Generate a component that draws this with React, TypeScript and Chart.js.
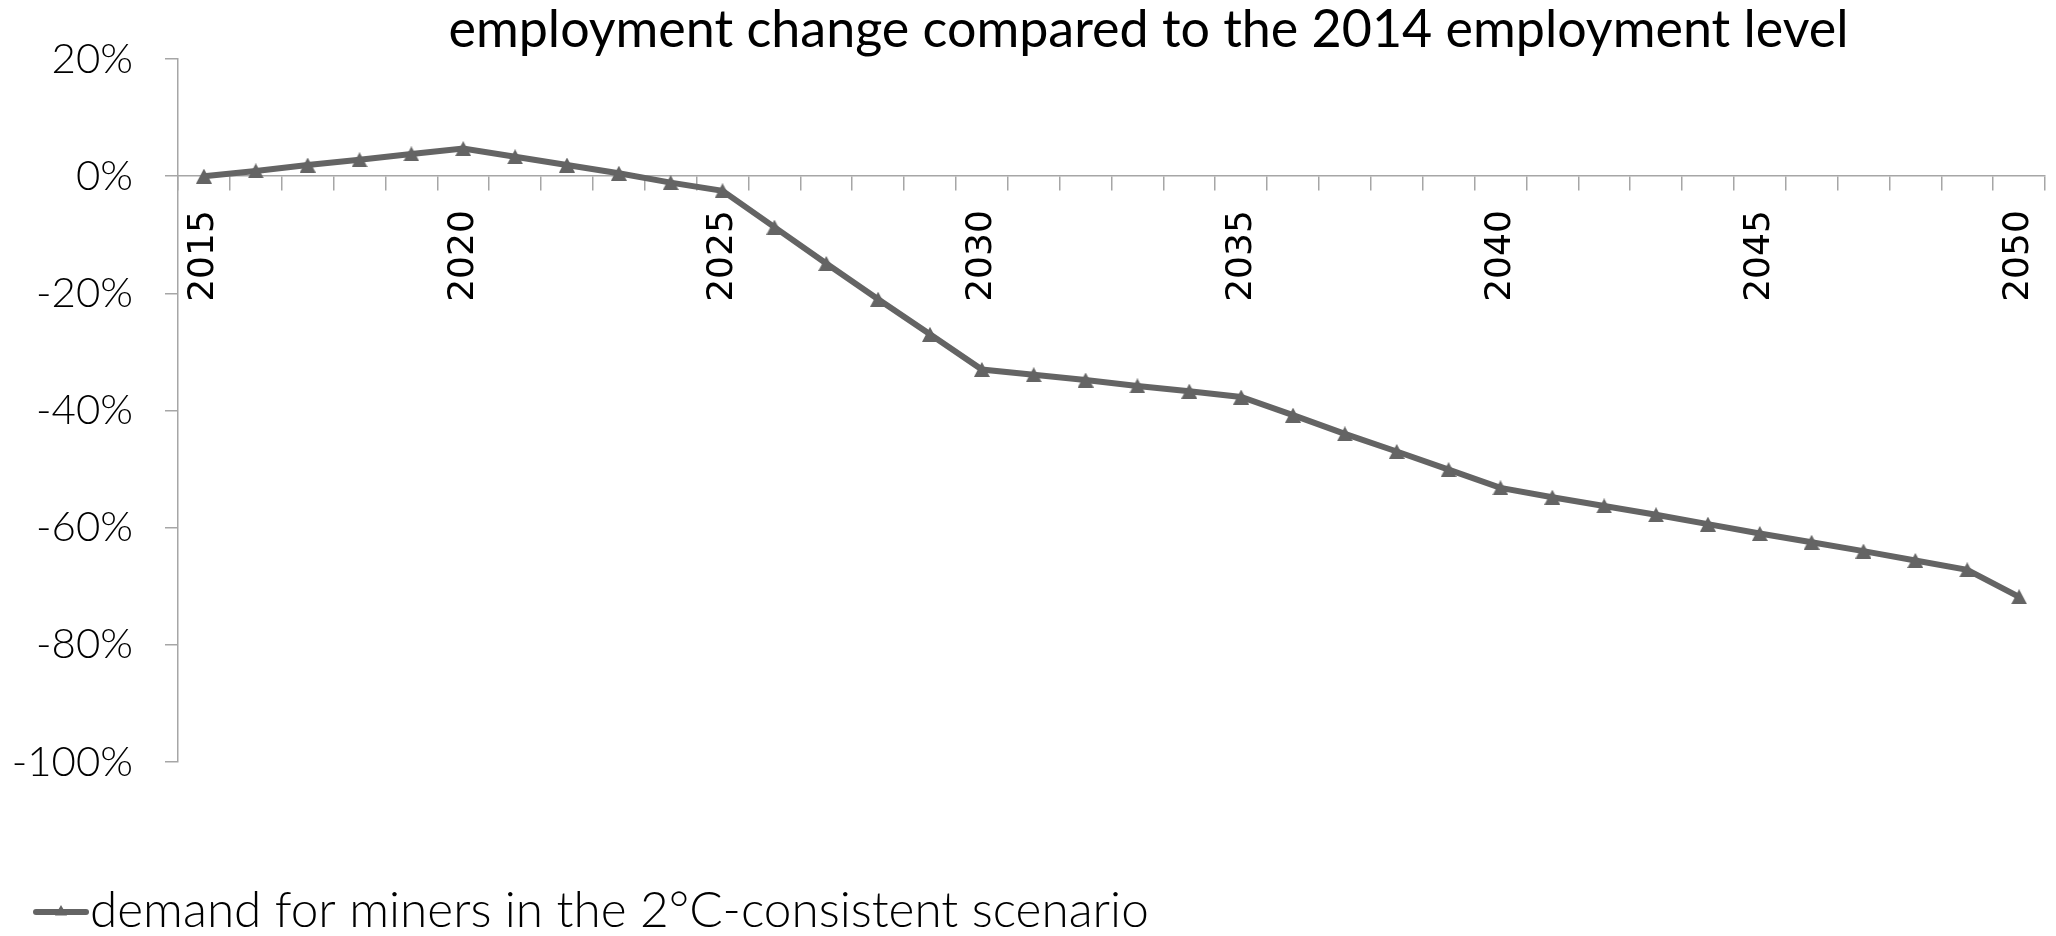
import React, { useEffect, useRef } from "react";
import { Chart, registerables } from "chart.js";

Chart.register(...registerables);

const TITLE = "employment change compared to the 2014 employment level";
const SERIES_LABEL = "demand for miners in the 2°C-consistent scenario";

const years: number[] = [
  2015, 2016, 2017, 2018, 2019, 2020, 2021, 2022, 2023, 2024, 2025, 2026,
  2027, 2028, 2029, 2030, 2031, 2032, 2033, 2034, 2035, 2036, 2037, 2038,
  2039, 2040, 2041, 2042, 2043, 2044, 2045, 2046, 2047, 2048, 2049, 2050,
];

// employment change in percent vs 2014
const employmentChange: number[] = [
  0, 0.9, 1.9, 2.8, 3.8, 4.7, 3.3, 1.9, 0.5, -1.1, -2.5, -8.7,
  -14.9, -21.0, -27.0, -33.0, -33.9, -34.8, -35.8, -36.7, -37.7, -40.8, -44.0, -47.0,
  -50.1, -53.2, -54.8, -56.3, -57.8, -59.4, -61.0, -62.5, -64.0, -65.6, -67.2, -71.8,
];

const yMin = -100;
const yMax = 20;
const yStep = 20;
const labelEvery = 5;

const LINE_COLOR = "#646464";
const AXIS_COLOR = "#a6a6a6";

function makeTriangle(w: number, h: number): HTMLCanvasElement {
  const c = document.createElement("canvas");
  c.width = w;
  c.height = h;
  const g = c.getContext("2d")!;
  g.fillStyle = LINE_COLOR;
  g.beginPath();
  g.moveTo(w / 2, 0);
  g.lineTo(w, h);
  g.lineTo(0, h);
  g.closePath();
  g.fill();
  return c;
}

const titleLegendPlugin = {
  id: "titleLegend",
  afterDraw(chart: any) {
    const ctx = chart.ctx;
    const area = chart.chartArea;
    ctx.save();
    // title
    ctx.fillStyle = "#000";
    ctx.font = "400 52px Lato, 'Open Sans', sans-serif";
    ctx.textAlign = "center";
    ctx.textBaseline = "alphabetic";
    ctx.fillText(TITLE, (area.left + area.right) / 2 + 37, 39);

    // legend
    const ly = 904;
    const lx = 25;
    ctx.strokeStyle = LINE_COLOR;
    ctx.lineWidth = 6;
    ctx.lineCap = "round";
    ctx.beginPath();
    ctx.moveTo(lx + 3, ly);
    ctx.lineTo(lx + 53, ly);
    ctx.stroke();
    const r = 7;
    const cx = lx + 28;
    ctx.fillStyle = LINE_COLOR;
    ctx.beginPath();
    ctx.moveTo(cx, ly - r);
    ctx.lineTo(cx + r * 0.866, ly + r * 0.5);
    ctx.lineTo(cx - r * 0.866, ly + r * 0.5);
    ctx.closePath();
    ctx.fill();
    ctx.fillStyle = "#000";
    ctx.font = "300 49.5px Lato, 'Open Sans', sans-serif";
    ctx.textAlign = "left";
    ctx.fillText(SERIES_LABEL, lx + 57, 919);
    ctx.restore();
  },
};

export default function App() {
  const canvasRef = useRef<HTMLCanvasElement | null>(null);

  useEffect(() => {
    if (!canvasRef.current) return;
    const marker = makeTriangle(16, 15);
    const chart = new Chart(canvasRef.current, {
      type: "line",
      data: {
        labels: years.map(String),
        datasets: [
          {
            label: SERIES_LABEL,
            data: employmentChange,
            borderColor: LINE_COLOR,
            backgroundColor: LINE_COLOR,
            borderWidth: 6,
            tension: 0,
            pointStyle: marker,
            pointRadius: 8,
            pointBackgroundColor: LINE_COLOR,
            pointBorderColor: LINE_COLOR,
          },
        ],
      },
      options: {
        responsive: false,
        maintainAspectRatio: false,
        animation: false,
        layout: { padding: { top: 51, left: 0, right: 5, bottom: 166 } },
        plugins: {
          legend: { display: false },
          title: { display: false },
          tooltip: { enabled: false },
        },
        scales: {
          x: {
            type: "category",
            position: { y: 0 },
            offset: true,
            afterFit: (scale: any) => {
              scale.paddingLeft = 0;
              scale.paddingRight = 0;
            },
            grid: {
              display: true,
              offset: true,
              drawOnChartArea: false,
              drawTicks: true,
              tickLength: 14,
              color: AXIS_COLOR,
              lineWidth: 1.5,
            },
            border: { display: true, color: AXIS_COLOR, width: 1.5 },
            ticks: {
              autoSkip: false,
              maxRotation: 90,
              minRotation: 90,
              padding: 20,
              color: "#000",
              font: { family: "'DejaVu Sans', sans-serif", size: 36 },
              callback: (_v: any, i: number) =>
                years[i] % labelEvery === 0 ? String(years[i]) : "",
            },
          },
          y: {
            min: yMin,
            max: yMax,
            afterFit: (scale: any) => {
              scale.width = 170;
              scale.paddingTop = 26;
              scale.paddingBottom = 26;
              scale.paddingLeft = 0;
              scale.paddingRight = 0;
            },
            grid: {
              display: true,
              drawOnChartArea: false,
              drawTicks: true,
              tickLength: 13,
              color: AXIS_COLOR,
              lineWidth: 1.5,
            },
            border: { display: true, color: AXIS_COLOR, width: 1.5 },
            ticks: {
              stepSize: yStep,
              padding: 32,
              color: "#000",
              font: { family: "Lato, 'Open Sans', sans-serif", size: 42, weight: "300" },
              callback: (v: any) => `${v}%`,
            },
          },
        },
      },
      plugins: [titleLegendPlugin],
    });
    return () => chart.destroy();
  }, []);

  return (
    <div style={{ width: 2040, height: 920, overflow: "hidden" }}>
      <canvas ref={canvasRef} width={2051} height={920} style={{ display: "block" }} />
    </div>
  );
}
